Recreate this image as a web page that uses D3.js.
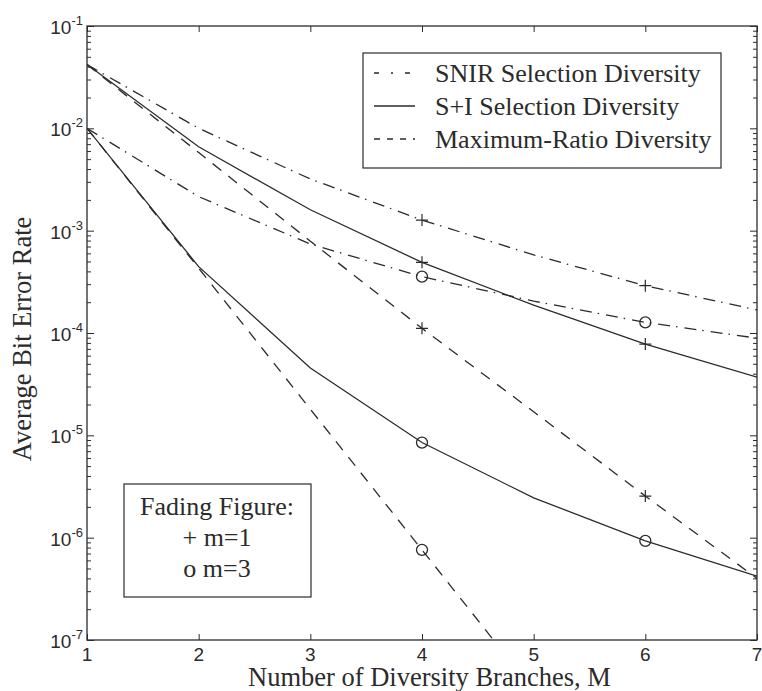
<!DOCTYPE html>
<html>
<head>
<meta charset="utf-8">
<script src="https://cdn.jsdelivr.net/npm/d3@7"></script>
<style>
  html, body { margin: 0; padding: 0; background: #fff; }
  svg { display: block; }
</style>
</head>
<body>
<div id="chart"></div>
<script>
/* ── DATA ── */
const branches   = [1, 2, 3, 4, 5, 6, 7];
const snirM1     = [4.2e-2, 1.0e-2, 3.2e-3, 1.27e-3, 5.8e-4, 2.9e-4, 1.68e-4];
const siM1       = [4.2e-2, 6.6e-3, 1.6e-3, 4.9e-4, 1.87e-4, 7.8e-5, 3.7e-5];
const mrM1       = [4.2e-2, 5.8e-3, 7.9e-4, 1.11e-4, 1.7e-5, 2.55e-6, 4.0e-7];
const snirM3     = [1.0e-2, 2.15e-3, 7.4e-4, 3.55e-4, 2.05e-4, 1.27e-4, 8.9e-5];
const siM3       = [1.0e-2, 4.45e-4, 4.55e-5, 8.5e-6, 2.45e-6, 9.3e-7, 4.2e-7];
const mrM3       = [1.0e-2, 4.3e-4, 1.8e-5, 7.6e-7, 3.2e-8];
const markedM    = [4, 6];
const xTicks     = [1, 2, 3, 4, 5, 6, 7];
const yExponents = [-1, -2, -3, -4, -5, -6, -7];
const legendLabels = ['SNIR Selection Diversity', 'S+I Selection Diversity', 'Maximum-Ratio Diversity'];
const fadingLines  = ['Fading Figure:', '+ m=1', 'o m=3'];

/* ── LAYOUT ── */
const W = 762, H = 691;
const M = { top: 26, right: 5, bottom: 51, left: 87 };
const INK = '#2b2b2b';
const SERIF = "'Liberation Serif', 'Times New Roman', serif";
const SANS  = "'Liberation Sans', Arial, sans-serif";
const DASH  = { solid: null, dashed: '11,9', dashdot: '12,6,1.5,7' };

const svg = d3.select('#chart').append('svg').attr('width', W).attr('height', H);
const x = d3.scaleLinear().domain([1, 7]).range([M.left, W - M.right]);
const y = d3.scaleLog().domain([1e-7, 1e-1]).range([H - M.bottom, M.top]);
const [px0, px1] = x.range(), [py1, py0] = y.range();

svg.append('defs').append('clipPath').attr('id', 'plot-clip')
  .append('rect').attr('x', px0).attr('y', py0).attr('width', px1 - px0).attr('height', py1 - py0);

/* ── AXES / TICKS ── */
const minors = [];
for (let e = -7; e < -1; e++) for (let k = 2; k <= 9; k++) minors.push(k * Math.pow(10, e));
const majors = yExponents.map(e => Math.pow(10, e));

function styleAxis(ax) {
  ax.select('.domain').remove();
  ax.selectAll('line').attr('stroke', INK).attr('stroke-width', 1);
}
svg.append('g').attr('transform', `translate(${px0},0)`)
  .call(d3.axisLeft(y).tickValues(majors).tickSize(-7).tickFormat('')).call(styleAxis);
svg.append('g').attr('transform', `translate(${px0},0)`)
  .call(d3.axisLeft(y).tickValues(minors).tickSize(-4).tickFormat('')).call(styleAxis);
svg.append('g').attr('transform', `translate(${px1},0)`)
  .call(d3.axisRight(y).tickValues(majors).tickSize(-7).tickFormat('')).call(styleAxis);
svg.append('g').attr('transform', `translate(${px1},0)`)
  .call(d3.axisRight(y).tickValues(minors).tickSize(-4).tickFormat('')).call(styleAxis);
svg.append('g').attr('transform', `translate(0,${py1})`)
  .call(d3.axisBottom(x).tickValues(xTicks).tickSize(-6).tickFormat('')).call(styleAxis);
svg.append('g').attr('transform', `translate(0,${py0})`)
  .call(d3.axisTop(x).tickValues(xTicks).tickSize(-6).tickFormat('')).call(styleAxis);

/* tick labels */
xTicks.forEach(t => {
  svg.append('text').attr('x', x(t)).attr('y', py1 + 21).attr('text-anchor', 'middle')
    .style('font-family', SANS).style('font-size', '19px').attr('fill', INK).text(t);
});
yExponents.forEach(e => {
  const t = svg.append('text').attr('x', px0 - 4).attr('y', y(Math.pow(10, e)) + 8)
    .attr('text-anchor', 'end').style('font-family', SANS).attr('fill', INK);
  t.append('tspan').style('font-size', '19px').text('10');
  t.append('tspan').style('font-size', '13px').attr('dy', -9).text(e);
});

/* frame */
svg.append('rect').attr('x', px0).attr('y', py0).attr('width', px1 - px0).attr('height', py1 - py0)
  .attr('fill', 'none').attr('stroke', INK).attr('stroke-width', 1.3);

/* axis titles */
svg.append('text').attr('x', 248).attr('y', 686)
  .style('font-family', SERIF).style('font-size', '26.5px').attr('fill', INK)
  .text('Number of Diversity Branches, M');
svg.append('text').attr('transform', 'translate(31,339) rotate(-90)').attr('text-anchor', 'middle')
  .style('font-family', SERIF).style('font-size', '26.5px').attr('fill', INK)
  .text('Average Bit Error Rate');

/* ── SERIES ── */
const series = [
  { vals: snirM1, style: 'dashdot', mark: 'plus' },
  { vals: siM1,   style: 'solid',   mark: 'plus' },
  { vals: mrM1,   style: 'dashed',  mark: 'plus' },
  { vals: snirM3, style: 'dashdot', mark: 'circle' },
  { vals: siM3,   style: 'solid',   mark: 'circle' },
  { vals: mrM3,   style: 'dashed',  mark: 'circle' },
];
const lineGen = d3.line().x((_, i) => x(branches[i])).y(d => y(d));
const plot = svg.append('g').attr('clip-path', 'url(#plot-clip)');

series.forEach(s => {
  plot.append('path').datum(s.vals).attr('d', lineGen)
    .attr('fill', 'none').attr('stroke', INK).attr('stroke-width', 1.3)
    .attr('stroke-dasharray', DASH[s.style]);
  markedM.forEach(m => {
    const i = branches.indexOf(m);
    if (i >= s.vals.length) return;
    const cx = x(m), cy = y(s.vals[i]);
    if (s.mark === 'plus') {
      plot.append('path').attr('d', `M${cx - 6},${cy}H${cx + 6}M${cx},${cy - 6}V${cy + 6}`)
        .attr('stroke', INK).attr('stroke-width', 1.2);
    } else {
      plot.append('circle').attr('cx', cx).attr('cy', cy).attr('r', 5.5)
        .attr('fill', 'none').attr('stroke', INK).attr('stroke-width', 1.3);
    }
  });
});

/* ── LEGEND ── */
const leg = svg.append('g');
leg.append('rect').attr('x', 363).attr('y', 53).attr('width', 358).attr('height', 115)
  .attr('fill', '#fff').attr('stroke', INK).attr('stroke-width', 1.2);
const legDash = ['5,12,2,12', null, '6,7'];
legendLabels.forEach((lbl, i) => {
  const cy = 73 + i * 33;
  leg.append('line').attr('x1', 374).attr('x2', 415).attr('y1', cy).attr('y2', cy)
    .attr('stroke', INK).attr('stroke-width', 1.3).attr('stroke-dasharray', legDash[i]);
  leg.append('text').attr('x', 435).attr('y', cy + 9)
    .style('font-family', SERIF).style('font-size', '26px').attr('fill', INK).text(lbl);
});

/* fading figure box */
const fb = svg.append('g');
fb.append('rect').attr('x', 124).attr('y', 484).attr('width', 187).attr('height', 113)
  .attr('fill', '#fff').attr('stroke', INK).attr('stroke-width', 1.2);
fadingLines.forEach((t, i) => {
  fb.append('text').attr('x', 217).attr('y', 515 + i * 31).attr('text-anchor', 'middle')
    .style('font-family', SERIF).style('font-size', '26px').attr('fill', INK).text(t);
});
</script>
</body>
</html>
